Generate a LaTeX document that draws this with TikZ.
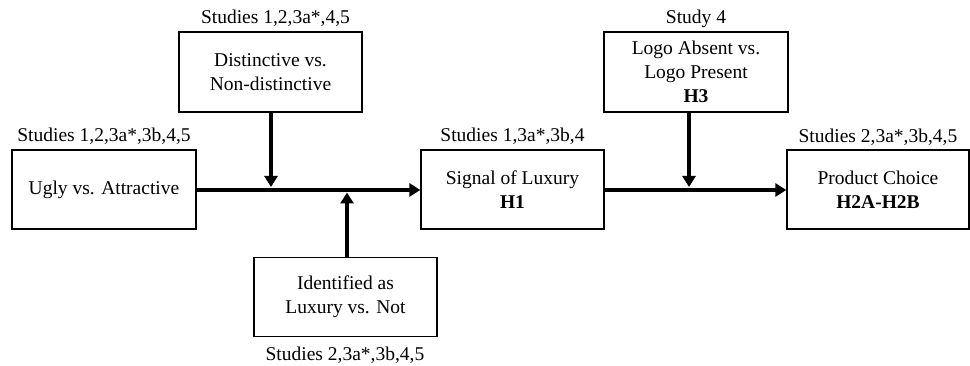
\documentclass[tikz,border=0pt]{standalone}
\usepackage{fontspec}
\setmainfont{Liberation Serif}
\usetikzlibrary{arrows.meta}
\begin{document}
\begin{tikzpicture}[x=1pt,y=-1pt,
  box/.style={draw,line width=1.3pt,minimum width=#1,minimum height=79pt,inner sep=0pt,align=center,font=\fontsize{19.5}{24}\selectfont},
  box/.default=183pt,
  lab/.style={anchor=base,inner sep=0pt,font=\fontsize{19.5}{24}\selectfont},
  arr/.style={line width=3.6pt,-{Triangle[length=11pt,width=13pt]}}]
\useasboundingbox (0,0) rectangle (970,366);
\node[box=184pt] (ugly) at (104,189.5) {Ugly vs. Attractive};
\node[box,minimum height=80pt] (dist) at (270.5,72) {Distinctive vs.\\Non-distinctive};
\node[box] (ident) at (345.5,297) {Identified as\\Luxury vs. Not};
\node[box] (signal) at (512.5,189.5) {Signal of Luxury\\\textbf{H1}};
\node[box=184pt,minimum height=80pt] (logo) at (696,72) {Logo Absent vs.\\Logo Present\\\textbf{H3}};
\node[box=182pt] (product) at (878,189.5) {Product Choice\\\textbf{H2A-H2B}};
\node[lab] (l1) at (104,141.5) {Studies 1,2,3a*,3b,4,5};
\node[lab] (l2) at (275.5,23.5) {Studies 1,2,3a*,4,5};
\node[lab] (l3) at (512.5,142) {Studies 1,3a*,3b,4};
\node[lab] (l4) at (696,23.5) {Study 4};
\node[lab] (l5) at (878,143) {Studies 2,3a*,3b,4,5};
\node[lab] (l6) at (345,360) {Studies 2,3a*,3b,4,5};
\coordinate (m1) at (271,187);
\coordinate (m2) at (347,192.5);
\coordinate (m3) at (689,187);
\draw[arr] (ugly.east |- 0,190) -- (signal.west |- 0,190);
\draw[arr] (signal.east |- 0,190) -- (product.west |- 0,190);
\draw[arr] (dist.south -| m1) -- (m1);
\draw[arr] (ident.north -| m2) -- (m2);
\draw[arr] (logo.south -| m3) -- (m3);
\end{tikzpicture}
\end{document}
